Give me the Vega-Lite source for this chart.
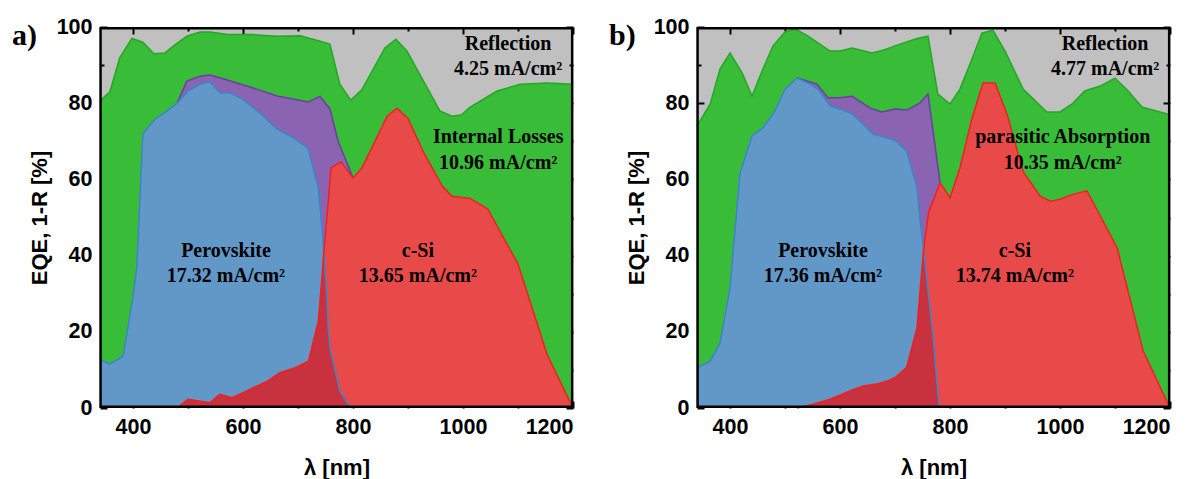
{
  "$schema": "https://vega.github.io/schema/vega-lite/v6.json",
  "padding": {"left": 12, "top": 16, "right": 0, "bottom": 0},
  "bounds": "flush",
  "spacing": 124,
  "config": {
    "view": {"stroke": null, "fill": "#c0c0c0"},
    "axis": {"labelFont": "Liberation Sans", "labelFontWeight": "bold", "labelFontSize": 21.5, "labelColor": "black", "titleFont": "Liberation Sans", "titleFontWeight": "bold", "titleFontSize": 22, "titleColor": "black", "tickColor": "#000000", "tickWidth": 2, "tickOpacity": 1, "grid": false, "domain": false, "zindex": 3},
    "text": {"font": "Liberation Serif", "fontWeight": "bold", "fontSize": 20, "color": "black"}
  },
  "datasets": {
    "a": [
      {"s":"t","x":340,"y":80.6},{"s":"t","x":358,"y":83},{"s":"t","x":376,"y":92},{"s":"t","x":398,"y":97},{"s":"t","x":418,"y":96},{"s":"t","x":438,"y":93},{"s":"t","x":458,"y":93.2},{"s":"t","x":478,"y":95.5},{"s":"t","x":498,"y":97.6},{"s":"t","x":522,"y":98.7},{"s":"t","x":540,"y":98.7},{"s":"t","x":576,"y":98},{"s":"t","x":618,"y":98},{"s":"t","x":662,"y":97.6},{"s":"t","x":704,"y":97.7},{"s":"t","x":740,"y":96.3},{"s":"t","x":758,"y":95.5},{"s":"t","x":776,"y":85},{"s":"t","x":796,"y":80.8},{"s":"t","x":816,"y":83.5},{"s":"t","x":858,"y":94.5},{"s":"t","x":878,"y":96.8},{"s":"t","x":898,"y":93.7},{"s":"t","x":958,"y":78},{"s":"t","x":980,"y":76.6},{"s":"t","x":998,"y":77},{"s":"t","x":1013,"y":79},{"s":"t","x":1062,"y":83.2},{"s":"t","x":1104,"y":85},{"s":"t","x":1153,"y":85.3},{"s":"t","x":1200,"y":85},
      {"s":"sum","x":480,"y":80},{"s":"sum","x":498,"y":85.8},{"s":"sum","x":522,"y":87.1},{"s":"sum","x":540,"y":87.4},{"s":"sum","x":564,"y":86.4},{"s":"sum","x":589,"y":85.3},{"s":"sum","x":625,"y":83.7},{"s":"sum","x":662,"y":81.9},{"s":"sum","x":691,"y":81.1},{"s":"sum","x":718,"y":80.3},{"s":"sum","x":740,"y":81.8},{"s":"sum","x":758,"y":78.5},{"s":"sum","x":773,"y":70},{"s":"sum","x":780,"y":67.5},{"s":"sum","x":800,"y":60.4},
      {"s":"pvk","x":340,"y":12.8},{"s":"pvk","x":358,"y":11.5},{"s":"pvk","x":382,"y":13.6},{"s":"pvk","x":400,"y":29},{"s":"pvk","x":407,"y":37},{"s":"pvk","x":418,"y":72},{"s":"pvk","x":440,"y":75.8},{"s":"pvk","x":462,"y":78},{"s":"pvk","x":480,"y":80},{"s":"pvk","x":500,"y":83.2},{"s":"pvk","x":522,"y":85},{"s":"pvk","x":540,"y":85.6},{"s":"pvk","x":558,"y":82.7},{"s":"pvk","x":576,"y":82.7},{"s":"pvk","x":600,"y":81},{"s":"pvk","x":631,"y":77.4},{"s":"pvk","x":662,"y":73.2},{"s":"pvk","x":691,"y":71},{"s":"pvk","x":718,"y":68.2},{"s":"pvk","x":737,"y":57.8},{"s":"pvk","x":743,"y":48.3},{"s":"pvk","x":747,"y":41},{"s":"pvk","x":752,"y":30.7},{"s":"pvk","x":755,"y":21},{"s":"pvk","x":758,"y":15.8},{"s":"pvk","x":776,"y":4.5},{"s":"pvk","x":791,"y":1},{"s":"pvk","x":798,"y":0},
      {"s":"si","x":480,"y":0},{"s":"si","x":500,"y":2.3},{"s":"si","x":540,"y":1.4},{"s":"si","x":558,"y":3.6},{"s":"si","x":580,"y":2.7},{"s":"si","x":600,"y":4},{"s":"si","x":618,"y":5.3},{"s":"si","x":644,"y":7},{"s":"si","x":667,"y":9.3},{"s":"si","x":695,"y":10.6},{"s":"si","x":719,"y":12.3},{"s":"si","x":737,"y":22.8},{"s":"si","x":743,"y":33.3},{"s":"si","x":747,"y":41},{"s":"si","x":755,"y":54},{"s":"si","x":760,"y":63},{"s":"si","x":778,"y":64.6},{"s":"si","x":800,"y":60.4},{"s":"si","x":816,"y":63},{"s":"si","x":840,"y":70},{"s":"si","x":862,"y":76.6},{"s":"si","x":880,"y":78.7},{"s":"si","x":900,"y":76},{"s":"si","x":927,"y":67.5},{"s":"si","x":962,"y":58.3},{"s":"si","x":980,"y":55.6},{"s":"si","x":1013,"y":55},{"s":"si","x":1045,"y":52.2},{"s":"si","x":1100,"y":37.8},{"s":"si","x":1153,"y":14},{"s":"si","x":1200,"y":0},
      {"s":"ov","x":480,"y":0},{"s":"ov","x":500,"y":2.3},{"s":"ov","x":540,"y":1.4},{"s":"ov","x":558,"y":3.6},{"s":"ov","x":580,"y":2.7},{"s":"ov","x":600,"y":4},{"s":"ov","x":618,"y":5.3},{"s":"ov","x":644,"y":7},{"s":"ov","x":667,"y":9.3},{"s":"ov","x":695,"y":10.6},{"s":"ov","x":719,"y":12.3},{"s":"ov","x":737,"y":22.8},{"s":"ov","x":743,"y":33.3},{"s":"ov","x":747,"y":41},{"s":"ov","x":752,"y":30.7},{"s":"ov","x":755,"y":21},{"s":"ov","x":758,"y":15.8},{"s":"ov","x":776,"y":4.5},{"s":"ov","x":791,"y":1},{"s":"ov","x":798,"y":0}
    ],
    "b": [
      {"s":"t","x":340,"y":74},{"s":"t","x":364,"y":79.8},{"s":"t","x":382,"y":89},{"s":"t","x":400,"y":93.2},{"s":"t","x":422,"y":88},{"s":"t","x":440,"y":81.9},{"s":"t","x":460,"y":89},{"s":"t","x":478,"y":95},{"s":"t","x":500,"y":98.7},{"s":"t","x":518,"y":99.5},{"s":"t","x":542,"y":97.6},{"s":"t","x":582,"y":93.7},{"s":"t","x":600,"y":93.7},{"s":"t","x":622,"y":94.5},{"s":"t","x":658,"y":93.2},{"s":"t","x":680,"y":94},{"s":"t","x":709,"y":95.5},{"s":"t","x":740,"y":97},{"s":"t","x":760,"y":97.6},{"s":"t","x":778,"y":82.4},{"s":"t","x":800,"y":79.8},{"s":"t","x":818,"y":83.7},{"s":"t","x":840,"y":91.6},{"s":"t","x":858,"y":98.4},{"s":"t","x":878,"y":99.2},{"s":"t","x":900,"y":93.7},{"s":"t","x":933,"y":83.7},{"s":"t","x":976,"y":77.7},{"s":"t","x":1000,"y":77.7},{"s":"t","x":1022,"y":79.8},{"s":"t","x":1045,"y":83.2},{"s":"t","x":1073,"y":84.5},{"s":"t","x":1100,"y":86.6},{"s":"t","x":1124,"y":83.2},{"s":"t","x":1149,"y":79},{"s":"t","x":1200,"y":77},
      {"s":"sum","x":522,"y":86.6},{"s":"sum","x":558,"y":85},{"s":"sum","x":578,"y":81.4},{"s":"sum","x":600,"y":81.4},{"s":"sum","x":622,"y":81.8},{"s":"sum","x":655,"y":78.7},{"s":"sum","x":676,"y":77.7},{"s":"sum","x":700,"y":78.5},{"s":"sum","x":722,"y":78.2},{"s":"sum","x":745,"y":80},{"s":"sum","x":760,"y":82.4},{"s":"sum","x":782,"y":59.1},
      {"s":"pvk","x":340,"y":10.5},{"s":"pvk","x":364,"y":12.3},{"s":"pvk","x":382,"y":17},{"s":"pvk","x":400,"y":31.5},{"s":"pvk","x":418,"y":61.4},{"s":"pvk","x":440,"y":71.4},{"s":"pvk","x":460,"y":73.5},{"s":"pvk","x":482,"y":78},{"s":"pvk","x":500,"y":83.7},{"s":"pvk","x":522,"y":86.6},{"s":"pvk","x":542,"y":85.3},{"s":"pvk","x":560,"y":83.7},{"s":"pvk","x":582,"y":79.3},{"s":"pvk","x":600,"y":78.5},{"s":"pvk","x":622,"y":77.2},{"s":"pvk","x":642,"y":74.5},{"s":"pvk","x":660,"y":71.9},{"s":"pvk","x":685,"y":70.9},{"s":"pvk","x":700,"y":70.3},{"s":"pvk","x":721,"y":67.5},{"s":"pvk","x":740,"y":57.8},{"s":"pvk","x":745,"y":50},{"s":"pvk","x":752,"y":41.5},{"s":"pvk","x":760,"y":30.7},{"s":"pvk","x":770,"y":17.6},{"s":"pvk","x":780,"y":0},
      {"s":"si","x":522,"y":0},{"s":"si","x":551,"y":1},{"s":"si","x":582,"y":2.3},{"s":"si","x":618,"y":4.5},{"s":"si","x":642,"y":5.8},{"s":"si","x":667,"y":6.3},{"s":"si","x":685,"y":7},{"s":"si","x":700,"y":8},{"s":"si","x":721,"y":10.6},{"s":"si","x":740,"y":21},{"s":"si","x":747,"y":33.3},{"s":"si","x":752,"y":41.5},{"s":"si","x":761,"y":51.3},{"s":"si","x":782,"y":59.1},{"s":"si","x":800,"y":55.2},{"s":"si","x":818,"y":63},{"s":"si","x":840,"y":76},{"s":"si","x":860,"y":85.3},{"s":"si","x":882,"y":85.3},{"s":"si","x":904,"y":77},{"s":"si","x":933,"y":62},{"s":"si","x":964,"y":55.6},{"s":"si","x":982,"y":54.3},{"s":"si","x":1000,"y":54.8},{"s":"si","x":1022,"y":56},{"s":"si","x":1049,"y":57},{"s":"si","x":1104,"y":42},{"s":"si","x":1151,"y":15},{"s":"si","x":1200,"y":0},
      {"s":"ov","x":522,"y":0},{"s":"ov","x":551,"y":1},{"s":"ov","x":582,"y":2.3},{"s":"ov","x":618,"y":4.5},{"s":"ov","x":642,"y":5.8},{"s":"ov","x":667,"y":6.3},{"s":"ov","x":685,"y":7},{"s":"ov","x":700,"y":8},{"s":"ov","x":721,"y":10.6},{"s":"ov","x":740,"y":21},{"s":"ov","x":747,"y":33.3},{"s":"ov","x":752,"y":41.5},{"s":"ov","x":760,"y":30.7},{"s":"ov","x":770,"y":17.6},{"s":"ov","x":780,"y":0}
    ],
    "fr": [
      {"side":"L","x":341,"y":0},{"side":"L","x":341,"y":100},
      {"side":"R","x":1198.5,"y":0},{"side":"R","x":1198.5,"y":100},
      {"side":"B","x":340,"y":0.3},{"side":"B","x":1200,"y":0.3},
      {"side":"T","x":340,"y":99.7},{"side":"T","x":1200,"y":99.7}
    ],
    "la": [
      {"x":1082,"y":95.5,"t":"Reflection"},{"x":1082,"y":89,"t":"4.25 mA/cm²"},
      {"x":1064,"y":71,"t":"Internal Losses"},{"x":1064,"y":64.3,"t":"10.96 mA/cm²"},
      {"x":918,"y":41.2,"t":"c-Si"},{"x":918,"y":34.6,"t":"13.65 mA/cm²"},
      {"x":569,"y":41.2,"t":"Perovskite"},{"x":569,"y":34.6,"t":"17.32 mA/cm²"}
    ],
    "lb": [
      {"x":1082,"y":95.5,"t":"Reflection"},{"x":1082,"y":89,"t":"4.77 mA/cm²"},
      {"x":1005,"y":71,"t":"parasitic Absorption"},{"x":1005,"y":64.3,"t":"10.35 mA/cm²"},
      {"x":918,"y":41.2,"t":"c-Si"},{"x":918,"y":34.6,"t":"13.74 mA/cm²"},
      {"x":569,"y":41.2,"t":"Perovskite"},{"x":569,"y":34.6,"t":"17.36 mA/cm²"}
    ]
  },
  "hconcat": [
    {
      "title": {"text": "a)", "anchor": "start", "frame": "group", "font": "Liberation Serif", "fontSize": 30, "fontWeight": "bold", "color": "black", "dx": -88, "dy": 35, "offset": 0},
      "width": 473, "height": 381,
      "resolve": {"axis": {"x": "independent", "y": "independent"}},
      "layer": [
        {"data": {"name": "a"}, "transform": [{"filter": "datum.s === 't'"}], "mark": {"type": "area", "color": "#39bc37"},
         "encoding": {"x": {"field": "x", "type": "quantitative", "scale": {"domain": [340, 1200], "nice": false, "zero": false}, "axis": null}, "y": {"field": "y", "type": "quantitative", "scale": {"domain": [0, 100], "nice": false}, "axis": null}}},
        {"data": {"name": "a"}, "transform": [{"filter": "datum.s === 'sum'"}], "mark": {"type": "area", "color": "#8a64b0"},
         "encoding": {"x": {"field": "x", "type": "quantitative", "axis": null}, "y": {"field": "y", "type": "quantitative", "axis": null}}},
        {"data": {"name": "a"}, "transform": [{"filter": "datum.s === 'pvk'"}], "mark": {"type": "area", "color": "#6298c8"},
         "encoding": {"x": {"field": "x", "type": "quantitative", "axis": null}, "y": {"field": "y", "type": "quantitative", "axis": null}}},
        {"data": {"name": "a"}, "transform": [{"filter": "datum.s === 'si'"}], "mark": {"type": "area", "color": "#e84a4a"},
         "encoding": {"x": {"field": "x", "type": "quantitative", "axis": null}, "y": {"field": "y", "type": "quantitative", "axis": null}}},
        {"data": {"name": "a"}, "transform": [{"filter": "datum.s === 'ov'"}], "mark": {"type": "area", "color": "#c8323f"},
         "encoding": {"x": {"field": "x", "type": "quantitative", "axis": null}, "y": {"field": "y", "type": "quantitative", "axis": null}}},
        {"data": {"name": "a"}, "transform": [{"filter": "datum.s === 't'"}], "mark": {"type": "line", "color": "#26a626", "strokeWidth": 1.5},
         "encoding": {"x": {"field": "x", "type": "quantitative", "axis": null}, "y": {"field": "y", "type": "quantitative", "axis": null}}},
        {"data": {"name": "a"}, "transform": [{"filter": "datum.s === 'sum'"}], "mark": {"type": "line", "color": "#6a3fa0", "strokeWidth": 1.5},
         "encoding": {"x": {"field": "x", "type": "quantitative", "axis": null}, "y": {"field": "y", "type": "quantitative", "axis": null}}},
        {"data": {"name": "a"}, "transform": [{"filter": "datum.s === 'pvk'"}], "mark": {"type": "line", "color": "#3c84c8", "strokeWidth": 1.5},
         "encoding": {
           "x": {"field": "x", "type": "quantitative", "axis": {"orient": "top", "values": [400,500,600,700,800,900,1000,1100,1200], "labels": false, "title": null, "tickSize": {"condition": {"test": "datum.value % 200 === 0", "value": -7}, "value": -4}}},
           "y": {"field": "y", "type": "quantitative", "axis": {"orient": "right", "values": [0,10,20,30,40,50,60,70,80,90,100], "labels": false, "title": null, "tickSize": {"condition": {"test": "datum.value % 20 === 0", "value": -7}, "value": -4}}}
         }},
        {"data": {"name": "a"}, "transform": [{"filter": "datum.s === 'si'"}], "mark": {"type": "line", "color": "#f02020", "strokeWidth": 1.5},
         "encoding": {
           "x": {"field": "x", "type": "quantitative", "axis": {"orient": "bottom", "values": [400,500,600,700,800,900,1000,1100,1200], "format": "d", "labelExpr": "datum.value % 200 === 0 ? datum.label : ''", "tickSize": {"condition": {"test": "datum.value % 200 === 0", "value": -7}, "value": -4}, "labelPadding": 15, "title": "λ [nm]", "titlePadding": 20}},
           "y": {"field": "y", "type": "quantitative", "axis": {"orient": "left", "values": [0,10,20,30,40,50,60,70,80,90,100], "format": "d", "labelExpr": "datum.value % 20 === 0 ? datum.label : ''", "tickSize": {"condition": {"test": "datum.value % 20 === 0", "value": -7}, "value": -4}, "labelPadding": 15, "title": "EQE, 1-R [%]", "titlePadding": 5}}
         }},
        {"data": {"name": "la"}, "mark": {"type": "text", "align": "center", "baseline": "middle"},
         "encoding": {"x": {"field": "x", "type": "quantitative", "axis": null}, "y": {"field": "y", "type": "quantitative", "axis": null}, "text": {"field": "t"}}},
        {"data": {"name": "fr"}, "mark": {"type": "line", "color": "#000000", "strokeWidth": 2.5, "clip": false},
         "encoding": {"x": {"field": "x", "type": "quantitative", "axis": null}, "y": {"field": "y", "type": "quantitative", "axis": null}, "detail": {"field": "side"}}}
      ]
    },
    {
      "title": {"text": "b)", "anchor": "start", "frame": "group", "font": "Liberation Serif", "fontSize": 30, "fontWeight": "bold", "color": "black", "dx": -88, "dy": 35, "offset": 0},
      "width": 473, "height": 381,
      "resolve": {"axis": {"x": "independent", "y": "independent"}},
      "layer": [
        {"data": {"name": "b"}, "transform": [{"filter": "datum.s === 't'"}], "mark": {"type": "area", "color": "#39bc37"},
         "encoding": {"x": {"field": "x", "type": "quantitative", "scale": {"domain": [340, 1200], "nice": false, "zero": false}, "axis": null}, "y": {"field": "y", "type": "quantitative", "scale": {"domain": [0, 100], "nice": false}, "axis": null}}},
        {"data": {"name": "b"}, "transform": [{"filter": "datum.s === 'sum'"}], "mark": {"type": "area", "color": "#8a64b0"},
         "encoding": {"x": {"field": "x", "type": "quantitative", "axis": null}, "y": {"field": "y", "type": "quantitative", "axis": null}}},
        {"data": {"name": "b"}, "transform": [{"filter": "datum.s === 'pvk'"}], "mark": {"type": "area", "color": "#6298c8"},
         "encoding": {"x": {"field": "x", "type": "quantitative", "axis": null}, "y": {"field": "y", "type": "quantitative", "axis": null}}},
        {"data": {"name": "b"}, "transform": [{"filter": "datum.s === 'si'"}], "mark": {"type": "area", "color": "#e84a4a"},
         "encoding": {"x": {"field": "x", "type": "quantitative", "axis": null}, "y": {"field": "y", "type": "quantitative", "axis": null}}},
        {"data": {"name": "b"}, "transform": [{"filter": "datum.s === 'ov'"}], "mark": {"type": "area", "color": "#c8323f"},
         "encoding": {"x": {"field": "x", "type": "quantitative", "axis": null}, "y": {"field": "y", "type": "quantitative", "axis": null}}},
        {"data": {"name": "b"}, "transform": [{"filter": "datum.s === 't'"}], "mark": {"type": "line", "color": "#26a626", "strokeWidth": 1.5},
         "encoding": {"x": {"field": "x", "type": "quantitative", "axis": null}, "y": {"field": "y", "type": "quantitative", "axis": null}}},
        {"data": {"name": "b"}, "transform": [{"filter": "datum.s === 'sum'"}], "mark": {"type": "line", "color": "#6a3fa0", "strokeWidth": 1.5},
         "encoding": {"x": {"field": "x", "type": "quantitative", "axis": null}, "y": {"field": "y", "type": "quantitative", "axis": null}}},
        {"data": {"name": "b"}, "transform": [{"filter": "datum.s === 'pvk'"}], "mark": {"type": "line", "color": "#3c84c8", "strokeWidth": 1.5},
         "encoding": {
           "x": {"field": "x", "type": "quantitative", "axis": {"orient": "top", "values": [400,500,600,700,800,900,1000,1100,1200], "labels": false, "title": null, "tickSize": {"condition": {"test": "datum.value % 200 === 0", "value": -7}, "value": -4}}},
           "y": {"field": "y", "type": "quantitative", "axis": {"orient": "right", "values": [0,10,20,30,40,50,60,70,80,90,100], "labels": false, "title": null, "tickSize": {"condition": {"test": "datum.value % 20 === 0", "value": -7}, "value": -4}}}
         }},
        {"data": {"name": "b"}, "transform": [{"filter": "datum.s === 'si'"}], "mark": {"type": "line", "color": "#f02020", "strokeWidth": 1.5},
         "encoding": {
           "x": {"field": "x", "type": "quantitative", "axis": {"orient": "bottom", "values": [400,500,600,700,800,900,1000,1100,1200], "format": "d", "labelExpr": "datum.value % 200 === 0 ? datum.label : ''", "tickSize": {"condition": {"test": "datum.value % 200 === 0", "value": -7}, "value": -4}, "labelPadding": 15, "title": "λ [nm]", "titlePadding": 20}},
           "y": {"field": "y", "type": "quantitative", "axis": {"orient": "left", "values": [0,10,20,30,40,50,60,70,80,90,100], "format": "d", "labelExpr": "datum.value % 20 === 0 ? datum.label : ''", "tickSize": {"condition": {"test": "datum.value % 20 === 0", "value": -7}, "value": -4}, "labelPadding": 15, "title": "EQE, 1-R [%]", "titlePadding": 5}}
         }},
        {"data": {"name": "lb"}, "mark": {"type": "text", "align": "center", "baseline": "middle"},
         "encoding": {"x": {"field": "x", "type": "quantitative", "axis": null}, "y": {"field": "y", "type": "quantitative", "axis": null}, "text": {"field": "t"}}},
        {"data": {"name": "fr"}, "mark": {"type": "line", "color": "#000000", "strokeWidth": 2.5, "clip": false},
         "encoding": {"x": {"field": "x", "type": "quantitative", "axis": null}, "y": {"field": "y", "type": "quantitative", "axis": null}, "detail": {"field": "side"}}}
      ]
    }
  ]
}
